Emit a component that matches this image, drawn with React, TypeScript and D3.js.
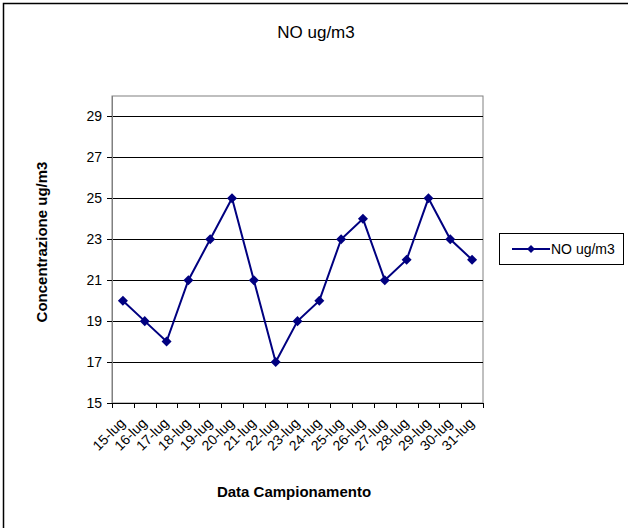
import React from "react";
import * as d3 from "d3";

const categories = ["15-lug","16-lug","17-lug","18-lug","19-lug","20-lug","21-lug","22-lug","23-lug","24-lug","25-lug","26-lug","27-lug","28-lug","29-lug","30-lug","31-lug"];
const values = [20,19,18,21,23,25,21,17,19,20,23,24,21,22,25,23,22];
const yTicks = [15,17,19,21,23,25,27,29];
const seriesName = "NO ug/m3";
const title = "NO ug/m3";
const yTitle = "Concentrazione ug/m3";
const xTitle = "Data Campionamento";

const W = 628, H = 528;
const plot = { left: 112, top: 96, right: 483, bottom: 403 };
const font = "Liberation Sans, Arial, sans-serif";
const navy = "#000080";

export default function App() {
  const x = d3.scaleBand().domain(categories).range([plot.left, plot.right]);
  const y = d3.scaleLinear().domain([15, 30]).range([plot.bottom, plot.top]);
  const cx = (c: string) => (x(c) as number) + x.bandwidth() / 2;
  const line = d3.line<number>().x((_, i) => cx(categories[i])).y(v => y(v));
  const diamond = d3.symbol().type(d3.symbolDiamond2).size(64)() as string;
  const boundaries = categories.map(c => x(c) as number).concat([plot.right]);

  return (
    <svg width={W} height={H} style={{ position: "absolute", left: 0, top: 0, background: "#fff" }} fontFamily={font}>
      <rect x={0} y={0} width={W} height={H} fill="#fff" />
      <path d={`M3.5,${H + 5} V3.5 H${W + 5}`} fill="none" stroke="#000" strokeWidth={1.5} />
      <text x={316} y={38} textAnchor="middle" fontSize={17}>{title}</text>

      {/* plot area border */}
      <rect x={plot.left} y={plot.top} width={plot.right - plot.left} height={plot.bottom - plot.top} fill="none" stroke="#808080" strokeWidth={1} />
      {/* gridlines */}
      {yTicks.filter(t => t > 15).map(t => (
        <line key={t} x1={plot.left} x2={plot.right} y1={Math.round(y(t)) + 0.5} y2={Math.round(y(t)) + 0.5} stroke="#000" strokeWidth={1} />
      ))}
      {/* y axis */}
      <line x1={plot.left + 0.5} x2={plot.left + 0.5} y1={plot.top} y2={plot.bottom} stroke="#808080" />
      {yTicks.map(t => (
        <g key={t}>
          <line x1={plot.left - 5} x2={plot.left} y1={Math.round(y(t)) + 0.5} y2={Math.round(y(t)) + 0.5} stroke="#000" />
          <text x={plot.left - 10} y={y(t)} dy="0.35em" textAnchor="end" fontSize={14}>{t}</text>
        </g>
      ))}
      {/* x axis */}
      <line x1={plot.left} x2={plot.right} y1={plot.bottom + 0.5} y2={plot.bottom + 0.5} stroke="#000" />
      {boundaries.map((b, i) => (
        <line key={i} x1={Math.round(b) + 0.5} x2={Math.round(b) + 0.5} y1={plot.bottom} y2={plot.bottom + 5} stroke="#000" />
      ))}
      {categories.map(c => (
        <text key={c} transform={`translate(${cx(c) + 3},${plot.bottom + 21}) rotate(-45)`} textAnchor="end" fontSize={14}>{c}</text>
      ))}
      <text x={294} y={497} textAnchor="middle" fontSize={15} fontWeight="bold">{xTitle}</text>
      <text transform={`translate(47,242) rotate(-90)`} textAnchor="middle" fontSize={15} fontWeight="bold">{yTitle}</text>

      {/* series */}
      <path d={line(values) as string} fill="none" stroke={navy} strokeWidth={2} />
      {values.map((v, i) => (
        <path key={i} d={diamond} transform={`translate(${cx(categories[i])},${y(v)})`} fill={navy} />
      ))}

      {/* legend */}
      <rect x={499.5} y={233.5} width={124} height={31} fill="#fff" stroke="#000" />
      <line x1={512} x2={550} y1={249} y2={249} stroke={navy} strokeWidth={2} />
      <path d={d3.symbol().type(d3.symbolDiamond2).size(40)() as string} transform="translate(531,249)" fill={navy} />
      <text x={551} y={249} dy="0.35em" fontSize={14}>{seriesName}</text>
    </svg>
  );
}
